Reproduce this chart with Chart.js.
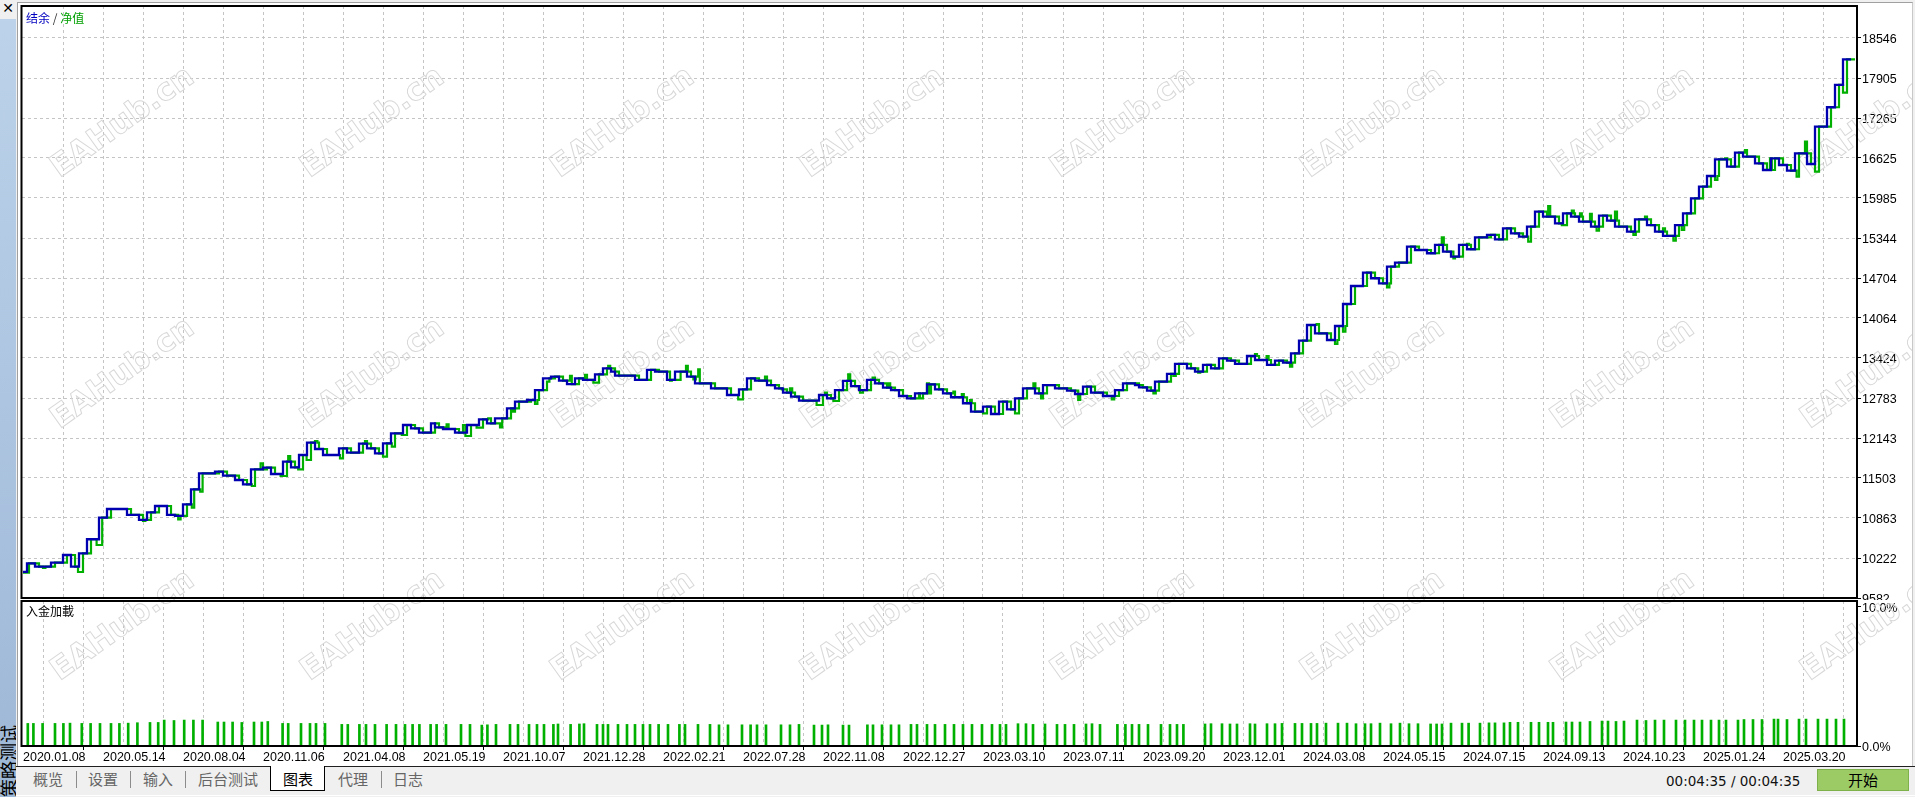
<!DOCTYPE html>
<html><head><meta charset="utf-8">
<script src="https://cdn.jsdelivr.net/npm/chart.js@4.4.1/dist/chart.umd.min.js"></script>
<style>
html,body{margin:0;padding:0;}
body{width:1915px;height:797px;overflow:hidden;background:#f0f0f0;position:relative;font-family:'Liberation Sans',Arial,sans-serif;}
.abs{position:absolute;}
#side{left:0;top:0;width:16px;height:797px;background:linear-gradient(#bdd3eb,#9db7d6);}
#sideTop{left:0;top:0;width:16px;height:19px;background:#f0f0f0;font:bold 14px 'DejaVu Sans';text-align:center;line-height:17px;color:#000;}
#vt{left:0px;top:722px;width:16px;height:75px;overflow:hidden;}
#vt span{display:block;writing-mode:vertical-rl;text-orientation:sideways;transform:rotate(180deg);font:18px 'Noto Sans CJK SC';line-height:16px;width:16px;height:75px;white-space:nowrap;color:#000;text-align:left;}
#win{left:17px;top:2px;width:1896px;height:764px;background:#fff;border-left:1px solid #a0a0a0;border-top:1px solid #a0a0a0;border-right:1px solid #c8c8c8;box-sizing:border-box;}
canvas{position:absolute;}
#title{left:26px;top:10px;font:12px 'Noto Sans CJK SC';line-height:15px;white-space:nowrap;}
#loadTitle{left:26px;top:603px;font:12px 'Noto Sans CJK SC';line-height:16px;color:#000;}
#tabs{left:16px;top:766px;width:1899px;height:31px;border-top:1px solid #202020;background:#f0f0f0;box-sizing:border-box;}
.tab{position:absolute;top:769px;font:15px 'Noto Sans CJK SC';line-height:20px;color:#666;white-space:nowrap;}
.sep{position:absolute;top:771px;width:1px;height:17px;background:#8c8c8c;}
#active{left:270px;top:766px;width:55px;height:25px;background:#fff;border:1px solid #000;border-top:none;box-sizing:border-box;}
#time{left:1666px;top:772px;font:13.5px 'DejaVu Sans';line-height:18px;color:#111;white-space:nowrap;}
#btn{left:1817px;top:769px;width:92px;height:22px;background:#9ccb66;border:1px solid #7fb14a;box-sizing:border-box;font:15px 'Noto Sans CJK SC';line-height:20px;text-align:center;color:#000;}
#bottomLine{left:16px;top:795px;width:1899px;height:1px;background:#fff;}
</style>
</head><body>
<div id="side" class="abs"></div>
<div id="vt" class="abs"><span>策略测试</span></div>
<div id="sideTop" class="abs">✕</div>
<div id="win" class="abs"></div>
<canvas id="mainChart" width="1896" height="600" style="left:16px;top:0px;width:1896px;height:600px;"></canvas>
<canvas id="loadChart" width="1896" height="166" style="left:16px;top:600px;width:1896px;height:166px;"></canvas>
<div id="title" class="abs"><span style="color:#0000c0">结余</span> <span style="color:#333">/</span> <span style="color:#00a000">净值</span></div>
<div id="loadTitle" class="abs">入金加載</div>
<div id="tabs" class="abs"></div>
<div id="active" class="abs"></div>
<div class="tab" style="left:33px">概览</div>
<div class="sep" style="left:76px"></div>
<div class="tab" style="left:88px">设置</div>
<div class="sep" style="left:130px"></div>
<div class="tab" style="left:143px">输入</div>
<div class="sep" style="left:185px"></div>
<div class="tab" style="left:198px">后台测试</div>
<div class="tab" style="left:283px;color:#000">图表</div>
<div class="tab" style="left:338px">代理</div>
<div class="sep" style="left:381px"></div>
<div class="tab" style="left:393px">日志</div>
<div id="time" class="abs">00:04:35 / 00:04:35</div>
<div id="btn" class="abs">开始</div>
<div id="bottomLine" class="abs"></div>
<script>
// ---------- DATA ----------
const dateLabels = ['2020.01.08','2020.05.14','2020.08.04','2020.11.06','2021.04.08','2021.05.19','2021.10.07','2021.12.28','2022.02.21','2022.07.28','2022.11.08','2022.12.27','2023.03.10','2023.07.11','2023.09.20','2023.12.01','2024.03.08','2024.05.15','2024.07.15','2024.09.13','2024.10.23','2025.01.24','2025.03.20'];
const balanceTicks = [9582,10222,10863,11503,12143,12783,13424,14064,14704,15344,15985,16625,17265,17905,18546];
const loadTicks = [0,10];
const loadTickLabels = ['0.0%','10.0%'];

// balance: [deal number, balance]
const balanceSteps = [
[0,10000],[1,10137],[3,10083],[7,10147],[10,10270],[12,10083],[14,10297],[16,10522],[19,10867],[21,11007],
[26,10911],[29,10831],[31,10954],[33,11055],[36,10911],[38,10895],[40,11082],[42,11322],[44,11578],[48,11604],
[50,11540],[53,11471],[55,11402],[57,11642],[60,11668],[62,11567],[65,11764],[67,11674],[69,11871],[71,12068],
[73,11967],[75,11871],[79,11978],[81,11908],[84,12052],[86,11978],[88,11898],[90,12058],[92,12218],[95,12351],
[97,12298],[99,12228],[102,12378],[103,12314],[105,12287],[108,12228],[111,12351],[114,12442],[116,12378],[118,12458],
[121,12618],[123,12724],[126,12751],[128,12911],[130,13099],[132,13124],[134,13060],[136,13007],[138,13099],[140,13072],
[143,13163],[145,13259],[147,13204],[148,13140],[153,13072],[156,13232],[158,13204],[161,13072],[163,13204],[166,13124],
[168,13019],[172,12939],[176,12831],[179,12923],[181,13099],[183,13060],[186,12991],[188,12939],[190,12868],[192,12804],
[194,12740],[199,12831],[201,12778],[203,12911],[205,13056],[207,12975],[209,12911],[211,13072],[213,13019],[215,12948],
[217,12911],[219,12815],[221,12778],[223,12858],[226,13002],[228,12923],[230,12858],[232,12795],[235,12699],[237,12564],
[240,12644],[242,12527],[244,12724],[246,12602],[248,12778],[250,12939],[253,12858],[255,12991],[258,12939],[261,12900],
[263,12847],[265,12964],[267,12868],[270,12815],[273,12911],[275,13019],[278,12991],[279,12955],[281,12900],[283,13044],
[286,13168],[288,13328],[291,13259],[293,13204],[295,13312],[297,13259],[299,13419],[301,13381],[303,13328],[306,13456],
[308,13392],[311,13312],[313,13381],[315,13348],[317,13499],[319,13701],[321,13952],[323,13819],[326,13712],[328,13936],
[330,14288],[332,14576],[335,14789],[337,14700],[339,14619],[341,14885],[343,14949],[346,15205],[348,15152],[351,15100],
[353,15233],[355,15125],[357,15045],[359,15233],[361,15164],[363,15356],[366,15393],[368,15324],[370,15500],[372,15420],
[374,15365],[376,15525],[378,15766],[380,15685],[383,15580],[385,15740],[387,15685],[389,15605],[392,15525],[394,15702],
[396,15621],[398,15525],[401,15445],[403,15644],[406,15552],[408,15445],[410,15377],[413,15552],[415,15740],[417,15980],
[419,16166],[421,16337],[423,16604],[426,16486],[428,16710],[430,16646],[433,16540],[435,16433],[437,16620],[439,16513],
[441,16422],[443,16700],[446,16529],[448,17126],[451,17437],[453,17794],[455,18205],[457,18205]
];

// equity: [deal number, equity]
const equityPoints = [
[0,9987],[1.5,10137],[4,10083],[5,10062],[5.6,10083],[8,10147],[11,10270],[13,10083],[13.75,9998],[15,10297],
[17,10522],[18.4,10430],[19.8,10867],[22,11007],[27,10911],[30,10815],[30.6,10831],[32,10954],[34,11055],[37,10911],
[38.8,10842],[39.4,10895],[41,11082],[42.2,11027],[42.8,11322],[44.3,11283],[44.9,11578],[49,11604],[51,11540],[54,11471],
[56,11402],[57.2,11375],[58,11642],[59.4,11738],[60,11642],[61,11668],[63,11567],[64.4,11535],[66,11764],[66.3,11855],
[66.8,11764],[68,11674],[68.8,11642],[70,11871],[70.9,11791],[72,12068],[73,12095],[73.6,12068],[74,11967],[76,11871],
[79.25,11818],[80,11978],[82,11908],[85,12052],[85.5,12095],[86,12052],[87,11978],[89,11898],[90,11844],[91,12058],
[92.2,12004],[93,12218],[94.7,12191],[96,12351],[98,12298],[100,12228],[103,12378],[104,12314],[105.9,12362],[106.4,12287],
[109,12228],[110,12351],[110.6,12175],[112,12351],[113.4,12309],[115,12442],[116.3,12458],[117,12378],[119.25,12314],[119.8,12458],
[122,12618],[122.5,12564],[123,12618],[124,12724],[127,12751],[128,12687],[128.6,12751],[129,12911],[131,13044],[131.6,13099],
[133,13124],[135,13060],[136.75,13136],[137.2,13007],[139,13099],[140.5,13152],[141,13072],[142.6,13028],[144,13163],[146,13259],
[146.3,13296],[146.8,13259],[148,13204],[149,13140],[154,13072],[157,13232],[159,13204],[161.75,13060],[162.2,13072],[164.4,13204],
[165.75,13296],[166.2,13204],[167,13124],[167.6,13082],[168.2,13124],[168.8,13243],[169.2,13019],[173,12939],[177,12831],[178.8,12762],
[180,12923],[182,13099],[184,13060],[185.5,13124],[186,13060],[187,12991],[189,12939],[189.7,12923],[191,12868],[191.75,12939],
[192.3,12868],[193,12804],[195,12740],[198.4,12671],[200,12831],[200.5,12868],[201,12831],[202,12778],[202.6,12735],[204,12911],
[206,13056],[206.3,13163],[206.8,13056],[208,12975],[209.25,12868],[210,12911],[212,13072],[212.4,13109],[213,13072],[214,13019],
[216,12948],[216.3,13019],[216.8,12948],[218,12911],[220,12815],[222,12778],[224,12858],[224.25,12778],[225,12858],[226,13019],
[226.5,12858],[227,13002],[229,12923],[231,12858],[232.6,12885],[233,12795],[234.7,12847],[235.2,12795],[236,12699],[236.75,12751],
[237.2,12699],[238,12564],[240,12538],[241,12644],[243,12527],[245,12724],[247,12602],[248,12538],[249,12778],[251,12939],
[252.6,13019],[253.1,12939],[254,12858],[254.5,12778],[255,12858],[256,12991],[259,12939],[262,12900],[263.8,12751],[264.3,12847],
[266,12964],[268,12868],[271,12815],[272.2,12762],[272.8,12815],[274,12911],[276,13019],[279,12991],[280,12955],[282,12900],
[282.6,12858],[283.2,12900],[284,13044],[287,13168],[287.6,13136],[288.2,13168],[289,13328],[292,13259],[293.8,13189],[294.3,13204],
[296,13312],[298,13259],[300,13419],[302,13381],[304,13328],[307,13456],[308,13488],[308.5,13456],[309,13392],[310.9,13456],
[311.4,13392],[312,13312],[314,13381],[316,13348],[316.75,13285],[317.3,13348],[318,13499],[320,13701],[322,13952],[323.4,13968],
[324,13819],[327,13712],[328,13648],[328.6,13712],[329,13936],[330,13845],[330.6,13936],[331,14288],[333,14576],[336,14789],
[338,14700],[340,14619],[341,14555],[341.6,14619],[342,14885],[344,14949],[347,15205],[349,15152],[352,15100],[354,15233],
[354.7,15356],[355.2,15233],[356,15125],[357.6,15019],[358,15045],[360,15233],[361,15249],[361.5,15233],[362,15164],[364,15356],
[367,15393],[369,15324],[371,15500],[373,15420],[375,15365],[376.3,15286],[377,15525],[379,15766],[381,15685],[381.3,15857],
[381.8,15685],[384,15580],[384.7,15552],[386,15740],[387.2,15782],[387.7,15740],[388,15685],[389.25,15740],[389.7,15685],[390,15605],
[391.75,15729],[392.2,15605],[393,15525],[393.4,15461],[394,15525],[395,15702],[397,15621],[398,15766],[398.5,15621],[399,15525],
[402,15445],[402.6,15393],[403.2,15445],[404,15644],[405.5,15685],[406,15644],[407,15552],[409,15445],[410,15500],[410.5,15445],
[411,15377],[412.6,15302],[413.2,15377],[414,15552],[414.7,15473],[415.3,15552],[416,15740],[418,15980],[420,16166],[422,16337],
[423,16273],[423.6,16337],[424,16604],[425.5,16620],[426,16604],[427,16486],[429,16710],[430.5,16753],[431,16646],[434,16540],
[436,16433],[436.75,16620],[437.2,16433],[438,16620],[440,16513],[442,16422],[443.4,16326],[444,16700],[445.5,16886],[446,16700],
[447,16529],[448,16406],[449,17126],[452,17437],[454,17794],[455,17670],[456,18205],[458,18205]
];

// deposit load: [deal number, percent]
const depositLoad = [
[1.2,1.62],[2.6,1.62],[4.9,1.62],[8,1.62],[10.1,1.62],[11.75,1.64],[14.7,1.62],[16.9,1.62],[19.25,1.62],[22,1.62],
[24.1,1.62],[26.3,1.64],[28.6,1.67],[31.75,1.69],[33.8,1.69],[35.3,1.86],[37.75,1.83],[40.3,1.86],[42.6,1.86],[44.9,1.86],
[48.7,1.72],[50.25,1.72],[52.4,1.72],[54.7,1.69],[57.75,1.72],[59.7,1.72],[61.2,1.76],[64.9,1.62],[66.3,1.62],[69.5,1.62],
[71.75,1.62],[73.25,1.62],[75.5,1.62],[79.7,1.55],[81.2,1.55],[84.1,1.55],[85.75,1.55],[88,1.55],[90.9,1.55],[93.25,1.55],
[95.5,1.55],[97.4,1.55],[99.1,1.55],[101.9,1.55],[103.4,1.55],[105.75,1.55],[109.5,1.55],[111.75,1.55],[114.7,1.5],[116.1,1.52],[118.25,1.55],
[121.75,1.55],[123.75,1.55],[126.5,1.55],[128.5,1.55],[130.25,1.55],[132.6,1.55],[133.75,1.58],[136.9,1.55],[139.1,1.58],[140.25,1.6],
[143.5,1.55],[145,1.55],[146.25,1.55],[148.75,1.55],[151,1.55],[153,1.55],[155,1.55],[156.75,1.55],[158.9,1.55],[161.25,1.55],[164.1,1.55],
[165.5,1.55],[168.75,1.55],[171.75,1.55],[174,1.52],[176.25,1.52],[179.75,1.52],[181.9,1.52],[183.5,1.52],[185.75,1.52],[189.5,1.52],
[191.75,1.52],[194,1.55],[197.75,1.5],[199.75,1.5],[201.25,1.52],[205,1.5],[206.5,1.5],[211.1,1.52],[212.5,1.52],[214.75,1.52],
[217,1.52],[219,1.52],[222,1.55],[223.5,1.55],[226,1.55],[228,1.55],[230.5,1.55],[232.75,1.55],[235,1.55],[237.25,1.55],
[239.75,1.55],[242.25,1.55],[244.25,1.55],[245.75,1.55],[248.75,1.6],[250.75,1.6],[252.5,1.55],[255.5,1.58],[258.5,1.55],[260.5,1.55],
[262.75,1.55],[265.75,1.58],[267.25,1.6],[269.25,1.55],[273.6,1.55],[275.6,1.55],[277.25,1.55],[279,1.55],[281.25,1.55],[284.5,1.55],
[286.75,1.55],[288.5,1.55],[290.1,1.55],[295.5,1.58],[297,1.6],[299.75,1.6],[301.75,1.58],[303.5,1.58],[306.75,1.6],[308,1.58],
[311,1.6],[313,1.6],[314.75,1.62],[318,1.62],
[319.75,1.62],[322,1.62],[323.5,1.62],[325.75,1.64],[328.75,1.64],[331,1.64],[333.25,1.6],[335.5,1.6],[337,1.6],[339.25,1.64],
[342,1.6],[344.25,1.64],[346.5,1.6],[348.75,1.6],[351.9,1.58],[353.4,1.58],[354.75,1.58],[357,1.64],[359.75,1.64],[361.4,1.64],
[364.25,1.64],[366.5,1.66],[368,1.66],[370.25,1.66],[371.75,1.7],[373.75,1.7],[377,1.7],[379,1.7],[381.25,1.7],[382.5,1.7],
[385.75,1.72],[387.25,1.72],[389.25,1.72],[391.75,1.76],[394.75,1.79],[396.25,1.79],[398.25,1.76],[400.25,1.79],[403.5,1.86],[405.75,1.83],
[408,1.86],[410.25,1.86],[413.25,1.86],[415.5,1.86],[417.75,1.86],[419.75,1.86],[422,1.86],[424,1.86],[425.75,1.86],[428.75,1.86],
[430.25,1.9],[432.5,1.9],[434.75,1.9],[437.75,1.93],[438.75,1.93],[441,1.9],[444,1.93],[445.75,1.93],[448.75,1.93],[451,1.93],
[453.25,1.93],[455.25,1.93]
];

// ---------- STYLE / LAYOUT ----------
Chart.defaults.font.family = "'Liberation Sans', Arial, sans-serif";
Chart.defaults.font.size = 12.5;
Chart.defaults.color = '#000';

const X_MIN = -0.25, X_MAX = 458.5, GRID_STEP = 10;
const GRID = '#c4c4c4';

const watermarkPlugin = {
  id: 'watermark',
  beforeDatasetsDraw(chart, args, opts) {
    const ctx = chart.ctx;
    ctx.save();
    ctx.translate(-opts.ox, -opts.oy);
    ctx.font = "bold 31px 'DejaVu Sans'";
    ctx.strokeStyle = '#d8d8d8';
    ctx.lineWidth = 1;
    ctx.textAlign = 'center';
    ctx.textBaseline = 'middle';
    for (const cy of [123, 374, 626]) {
      for (let k = 0; k < 8; k++) {
        const cx = 123 + 250 * k;
        ctx.save();
        ctx.translate(cx, cy);
        ctx.rotate(-0.62);
        ctx.strokeText('EAHub.cn', 0, 0);
        ctx.restore();
      }
    }
    ctx.restore();
  }
};
const framePlugin = {
  id: 'frame',
  afterDraw(chart) {
    const a = chart.chartArea, ctx = chart.ctx;
    ctx.save();
    ctx.strokeStyle = '#000';
    ctx.lineWidth = 2;
    ctx.strokeRect(a.left - 0.5, a.top, a.right - a.left + 0.5, a.bottom - a.top);
    ctx.restore();
  }
};

function gridTicks(scale) {
  const t = [];
  for (let v = 0; v <= X_MAX; v += GRID_STEP) t.push({ value: v });
  scale.ticks = t;
}
function noPad(s) { s.paddingTop = 0; s.paddingBottom = 0; s.paddingLeft = 0; s.paddingRight = 0; }

new Chart(document.getElementById('mainChart'), {
  type: 'line',
  data: {
    datasets: [
      { label: '结余', data: balanceSteps.map(p => ({ x: p[0], y: p[1] })), borderColor: '#0000b0', borderWidth: 2.3, stepped: 'before', pointRadius: 0, fill: false },
      { label: '净值', data: equityPoints.map(p => ({ x: p[0], y: p[1] })), borderColor: '#00b000', borderWidth: 2.2, stepped: 'before', pointRadius: 0, fill: false }
    ]
  },
  options: {
    responsive: false, animation: false, devicePixelRatio: 1, events: [],
    layout: { padding: { left: 6, top: 6, right: 0, bottom: 2 } },
    plugins: { legend: { display: false }, tooltip: { enabled: false }, watermark: { ox: 16, oy: 0 } },
    scales: {
      x: {
        type: 'linear', min: X_MIN, max: X_MAX,
        afterBuildTicks: gridTicks,
        afterFit: s => { s.height = 0; noPad(s); },
        ticks: { display: false },
        grid: { color: c => (c.tick && c.tick.value === 0) ? 'rgba(0,0,0,0)' : GRID, drawTicks: false, lineWidth: 1 },
        border: { display: false, dash: [3, 3] }
      },
      y: {
        type: 'linear', position: 'right', min: 9582, max: 19058,
        afterBuildTicks: s => { s.ticks = balanceTicks.map(v => ({ value: v })); },
        afterFit: s => { s.width = 55; noPad(s); },
        ticks: { padding: 1, labelOffset: 2, callback: v => String(v), font: { size: 12.5 } },
        grid: { color: GRID, lineWidth: 1, drawTicks: true, tickLength: 4, tickColor: '#000', tickBorderDash: [] },
        border: { display: false, dash: [3, 3] }
      }
    }
  },
  plugins: [watermarkPlugin, framePlugin]
});

new Chart(document.getElementById('loadChart'), {
  type: 'bar',
  data: {
    datasets: [
      { label: '入金加載', data: depositLoad.map(p => ({ x: p[0], y: p[1] })), backgroundColor: '#00b000', borderWidth: 0, barThickness: 2, grouped: false }
    ]
  },
  options: {
    responsive: false, animation: false, devicePixelRatio: 1, events: [],
    layout: { padding: { left: 6, top: 1, right: 0, bottom: 0 } },
    plugins: { legend: { display: false }, tooltip: { enabled: false }, watermark: { ox: 16, oy: 600 } },
    scales: {
      x: {
        type: 'linear', min: X_MIN, max: X_MAX, offset: false,
        afterBuildTicks: gridTicks,
        afterFit: s => { s.height = 20; noPad(s); },
        ticks: {
          autoSkip: false, maxRotation: 0, minRotation: 0, align: 'start', padding: 0,
          callback: v => (v % (2 * GRID_STEP) === 0 && dateLabels[v / (2 * GRID_STEP)]) ? dateLabels[v / (2 * GRID_STEP)] : ''
        },
        grid: {
          color: c => (c.tick && c.tick.value === 0) ? 'rgba(0,0,0,0)' : GRID,
          lineWidth: 1, drawTicks: true, tickLength: 4, tickBorderDash: [],
          tickColor: c => (c.tick && c.tick.value % (2 * GRID_STEP) === 0) ? '#000' : 'rgba(0,0,0,0)'
        },
        border: { display: false, dash: [3, 3] }
      },
      y: {
        type: 'linear', position: 'right', min: 0, max: 10.4,
        afterBuildTicks: s => { s.ticks = loadTicks.map(v => ({ value: v })); },
        afterFit: s => { s.width = 55; noPad(s); },
        ticks: { padding: 1, labelOffset: 2, callback: v => loadTickLabels[loadTicks.indexOf(v)] },
        grid: { drawOnChartArea: false, drawTicks: true, tickLength: 4, tickColor: '#000' },
        border: { display: false }
      }
    }
  },
  plugins: [watermarkPlugin, framePlugin]
});
</script>
</body></html>
